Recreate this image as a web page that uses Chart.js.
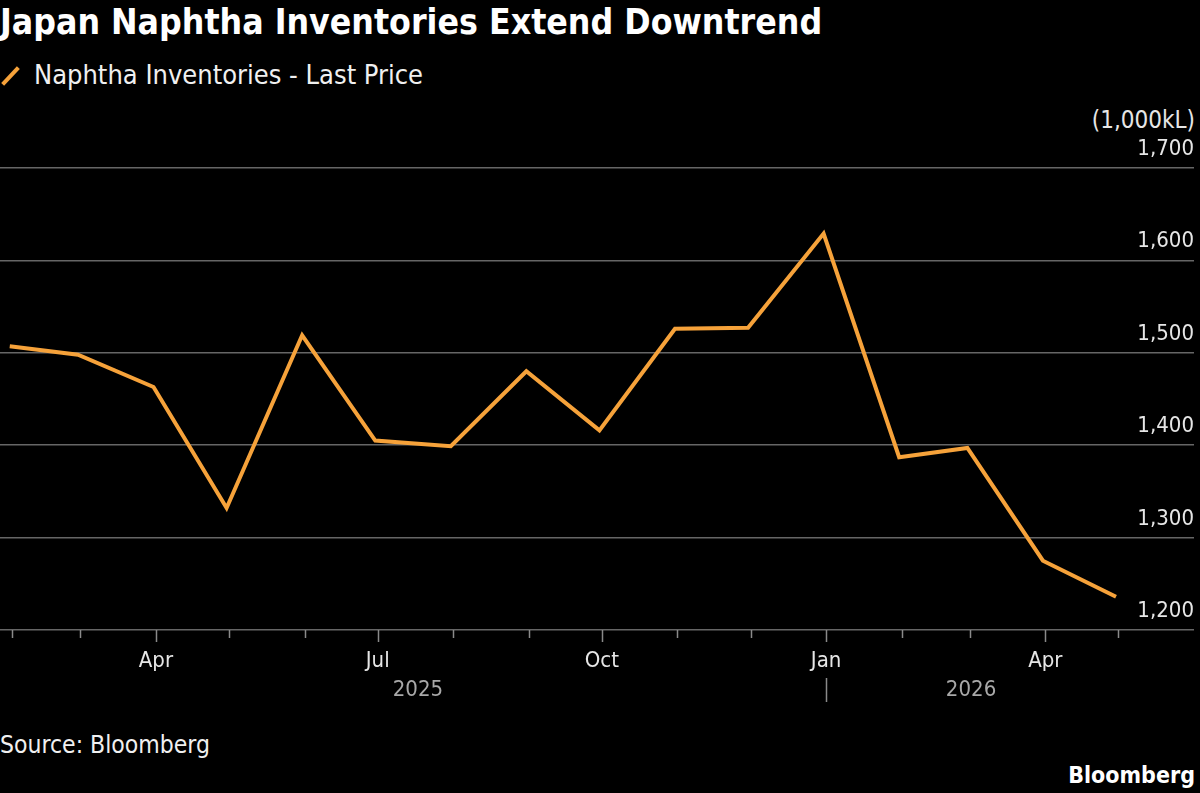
<!DOCTYPE html>
<html>
<head>
<meta charset="utf-8">
<script src="https://cdn.jsdelivr.net/npm/chart.js@4.4.1/dist/chart.umd.min.js"></script>
<style>
  html, body { margin: 0; padding: 0; background: #000; }
  body { width: 1200px; height: 793px; position: relative; overflow: hidden;
         font-family: "DejaVu Sans Condensed", "DejaVu Sans", sans-serif; font-stretch: condensed; color: #fff; }
  .title { position: absolute; left: 0; top: 4px; font-size: 35.3px; font-weight: bold; line-height: 1; }
  .legend { position: absolute; left: 34px; top: 61px; font-size: 27px; line-height: 1; color: #f0f0f0; }
  .swatch { position: absolute; left: -1px; top: 74px; width: 23px; height: 4px; background: #f6a23a;
            transform: rotate(-47deg); transform-origin: center; }
  .unit { position: absolute; right: 5px; top: 108px; font-size: 24px; line-height: 1; color: #e6e6e6; }
  .source { position: absolute; left: 0; top: 733px; font-size: 24.5px; line-height: 1; color: #f0f0f0; }
  .brand { position: absolute; right: 5px; top: 764px; font-size: 23px; font-weight: bold; line-height: 1; }
  .wrap { position: absolute; left: 0; top: 130px; width: 1194px; height: 590px; }
</style>
</head>
<body>
<div class="title">Japan Naphtha Inventories Extend Downtrend</div>
<div class="swatch"></div>
<div class="legend">Naphtha Inventories - Last Price</div>
<div class="unit">(1,000kL)</div>
<div class="wrap"><canvas id="chart"></canvas></div>
<div class="source">Source: Bloomberg</div>
<div class="brand">Bloomberg</div>
<script>
// month-end readings, 1,000kL
const dates = ['2025-01-31', '2025-02-28', '2025-03-31', '2025-04-30', '2025-05-31', '2025-06-30',
               '2025-07-31', '2025-08-31', '2025-09-30', '2025-10-31', '2025-11-30', '2025-12-31',
               '2026-01-31', '2026-02-28', '2026-03-31', '2026-04-30'];
const inventories = [1507, 1498, 1463, 1332, 1519, 1405, 1399, 1480, 1416, 1526, 1527, 1629,
                     1387, 1397, 1275, 1236];
const seriesName = 'Naphtha Inventories - Last Price';
const monthLabels = ['Jan', '', '', 'Apr', '', '', 'Jul', '', '', 'Oct', '', ''];
const years = ['2025', '2026'];
const yMin = 1200, yMax = 1700, yStep = 100;
const axisStart = '2025-01-27', axisEnd = '2026-06-01';

const FONT = '"DejaVu Sans Condensed", "DejaVu Sans", sans-serif';
const ORANGE = '#f6a23a';
const GRID = '#666666';

const toDay = s => Date.UTC(+s.slice(0, 4), +s.slice(5, 7) - 1, +s.slice(8, 10)) / 86400000;
const fromDay = v => new Date(v * 86400000);

// first day of each month inside the axis range
function monthStarts() {
  const out = [];
  const a = fromDay(toDay(axisStart));
  let y = a.getUTCFullYear(), m = a.getUTCMonth() + 1;
  while (true) {
    const v = Date.UTC(y, m, 1) / 86400000;
    if (v >= toDay(axisEnd)) break;
    out.push(v);
    m++;
  }
  return out;
}

const points = dates.map((d, i) => ({ x: toDay(d), y: inventories[i] }));

const axisExtras = {
  id: 'axisExtras',
  afterDraw(chart) {
    const { ctx, chartArea, scales: { x, y } } = chart;
    const base = chartArea.bottom;
    ctx.save();

    // value labels sitting above the gridlines, right aligned
    ctx.fillStyle = '#e6e6e6';
    ctx.font = '22px ' + FONT;
    ctx.textAlign = 'right';
    ctx.textBaseline = 'alphabetic';
    y.ticks.forEach(t => {
      ctx.fillText(t.value.toLocaleString('en-US'), chartArea.right, y.getPixelForValue(t.value) - 13);
    });

    // month ticks, longer on quarters
    ctx.strokeStyle = '#8a8a8a';
    ctx.lineWidth = 1.5;
    x.ticks.forEach(t => {
      const px = Math.round(x.getPixelForValue(t.value)) + 0.5;
      const major = fromDay(t.value).getUTCMonth() % 3 === 0;
      ctx.beginPath();
      ctx.moveTo(px, base);
      ctx.lineTo(px, base + (major ? 12 : 8));
      ctx.stroke();
    });

    // year divider under Jan
    const jan = Math.round(x.getPixelForValue(toDay(years[1] + '-01-01'))) + 0.5;
    ctx.beginPath();
    ctx.moveTo(jan, base + 48);
    ctx.lineTo(jan, base + 72);
    ctx.stroke();

    // year labels centred on the part of each year covered by data
    const first = points[0].x, last = points[points.length - 1].x;
    ctx.fillStyle = '#a8a8a8';
    ctx.textAlign = 'center';
    ctx.textBaseline = 'middle';
    years.forEach(yr => {
      const a = Math.max(toDay(yr + '-01-01'), first);
      const b = Math.min(toDay((+yr + 1) + '-01-01'), last);
      const cx = (x.getPixelForValue(a) + x.getPixelForValue(b)) / 2;
      ctx.fillText(yr, cx, base + 60);
    });
    ctx.restore();
  }
};

new Chart(document.getElementById('chart'), {
  type: 'line',
  data: {
    datasets: [{
      label: seriesName,
      data: points,
      borderColor: ORANGE,
      borderWidth: 4,
      borderJoinStyle: 'miter',
      pointRadius: 0,
      tension: 0,
      fill: false
    }]
  },
  options: {
    responsive: true,
    maintainAspectRatio: false,
    animation: false,
    layout: { padding: { top: 38, left: 0, right: 0, bottom: 0 } },
    plugins: { legend: { display: false }, tooltip: { enabled: false } },
    scales: {
      x: {
        type: 'linear',
        min: toDay(axisStart),
        max: toDay(axisEnd),
        afterBuildTicks: s => { s.ticks = monthStarts().map(v => ({ value: v })); },
        afterFit: s => { s.height = 90; },
        grid: { display: false },
        border: { display: false },
        ticks: {
          autoSkip: false,
          maxRotation: 0,
          padding: 10,
          color: '#e6e6e6',
          font: { family: FONT, size: 22 },
          callback: v => monthLabels[fromDay(v).getUTCMonth()]
        }
      },
      y: {
        position: 'right',
        min: yMin,
        max: yMax,
        afterFit: s => { s.width = 0; },
        grid: { color: GRID, lineWidth: 1.5, drawTicks: false },
        border: { display: false },
        ticks: { stepSize: yStep, display: false }
      }
    }
  },
  plugins: [axisExtras]
});
</script>
</body>
</html>
